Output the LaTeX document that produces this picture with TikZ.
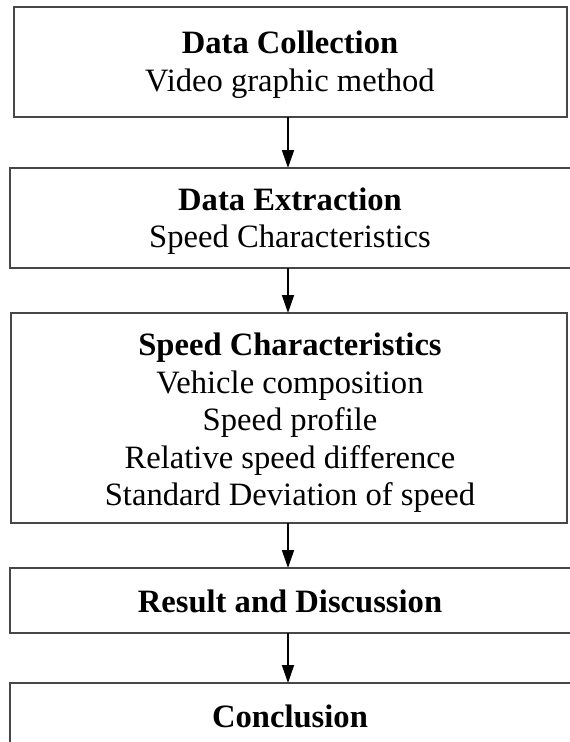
\documentclass[tikz,border=0pt]{standalone}
\usepackage{fontspec}
\setmainfont{Liberation Serif}
\usetikzlibrary{arrows.meta}
\begin{document}
\begin{tikzpicture}[x=1pt,y=1pt,
  box/.style={draw=black!72,line width=2pt,inner sep=0pt,outer sep=0pt,anchor=north west,fill=white},
  lbl/.style={anchor=base,inner sep=0pt,font=\fontsize{32.6}{37.5}\selectfont},
  arr/.style={line width=1.8pt,-{Triangle[length=18pt,width=12pt]}}]
\useasboundingbox (0,0) rectangle (570,-742);
\clip (0,0) rectangle (570,-742);
\fill[white] (0,0) rectangle (570,-742);
% boxes
\node[box,minimum width=553pt,minimum height=110pt] (b1) at (14,-7) {};
\node[box,minimum width=600pt,minimum height=100pt] (b2) at (10,-168) {};
\node[box,minimum width=556pt,minimum height=210pt] (b3) at (11,-313) {};
\node[box,minimum width=600pt,minimum height=65pt] (b4) at (10,-568) {};
\node[box,minimum width=600pt,minimum height=90pt] (b5) at (10,-683) {};
% labels
\node[lbl] (t1) at (290,-53) {\textbf{Data Collection}};
\node[lbl] (t1b) at (290,-91) {Video graphic method};
\node[lbl] (t2) at (290,-210) {\textbf{Data Extraction}};
\node[lbl] (t2b) at (290,-247) {Speed Characteristics};
\node[lbl] (t3) at (290,-355) {\textbf{Speed Characteristics}};
\node[lbl] (t3b) at (290,-393) {Vehicle composition};
\node[lbl] (t3c) at (290,-430) {Speed profile};
\node[lbl] (t3d) at (290,-468) {Relative speed difference};
\node[lbl] (t3e) at (290,-505) {Standard Deviation of speed};
\node[lbl] (t4) at (290,-612) {\textbf{Result and Discussion}};
\node[lbl] (t5) at (290,-727) {\textbf{Conclusion}};
% arrows
\coordinate (ax) at (288,0);
\draw[arr] (ax |- b1.south) -- (ax |- b2.north);
\draw[arr] (ax |- b2.south) -- (ax |- b3.north);
\draw[arr] (ax |- b3.south) -- (ax |- b4.north);
\draw[arr] (ax |- b4.south) -- (ax |- b5.north);
\end{tikzpicture}
\end{document}
